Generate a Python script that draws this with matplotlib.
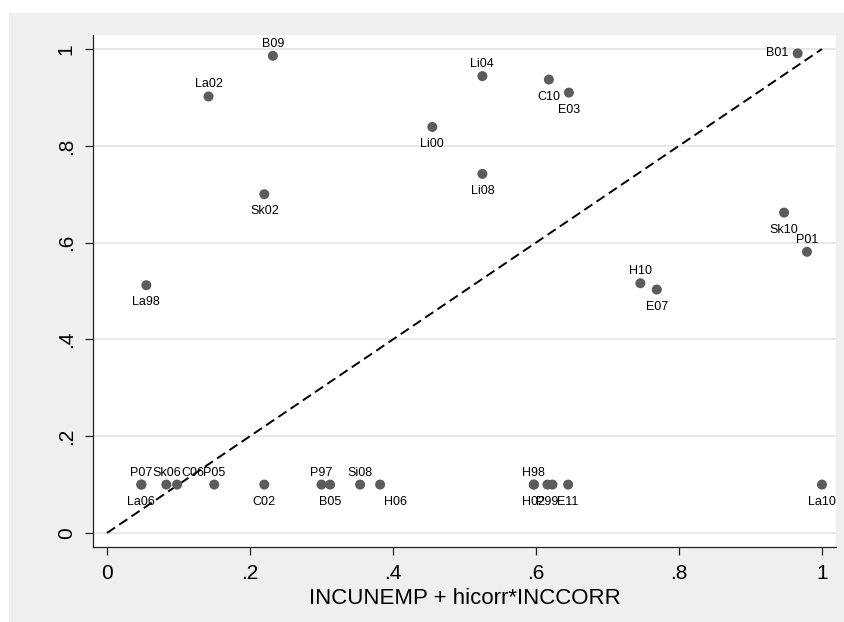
#!/usr/bin/env python3
# -*- coding: utf-8 -*-
"""
Labelled scatter of INCUNEMP + hicorr*INCCORR against its counterpart, with 45 degree line
"""

import numpy as np
import matplotlib as mpl
mpl.use('Agg')
import matplotlib.pyplot as plt
from matplotlib.patches import Rectangle

# data
labels = ['B09', 'La02', 'Sk02', 'La98', 'Li04', 'C10', 'E03', 'Li00', 'Li08', 'B01',
          'Sk10', 'P01', 'H10', 'E07', 'P07', 'La06', 'Sk06', 'C06', 'P05', 'C02',
          'P97', 'B05', 'Si08', 'H06', 'H98', 'H02', 'P99', '', 'E11', 'La10']
x_vals = [0.232, 0.142, 0.220, 0.055, 0.525, 0.618, 0.646, 0.455, 0.525, 0.966,
          0.947, 0.979, 0.746, 0.769, 0.048, 0.048, 0.083, 0.098, 0.150, 0.220,
          0.300, 0.312, 0.354, 0.382, 0.597, 0.597, 0.616, 0.623, 0.645, 1.000]
y_vals = [0.986, 0.902, 0.700, 0.512, 0.944, 0.937, 0.910, 0.839, 0.742, 0.991,
          0.662, 0.581, 0.516, 0.503, 0.100, 0.100, 0.100, 0.100, 0.100, 0.100,
          0.100, 0.100, 0.100, 0.100, 0.100, 0.100, 0.100, 0.100, 0.100, 0.100]

# stata style clock positions for the marker labels
label_pos = [12, 12, 6, 6, 12, 6, 6, 6, 6, 9,
             6, 12, 12, 6, 12, 6, 12, 1, 12, 6,
             12, 6, 12, 5, 12, 6, 6, 6, 6, 6]

ticks = [0, 0.2, 0.4, 0.6, 0.8, 1.0]
tick_labels = ['0', '.2', '.4', '.6', '.8', '1']
xlabel = 'INCUNEMP + hicorr*INCCORR'

# offset (points), ha, va for each clock position
clock = {12: ((0, 6.5), 'center', 'baseline'),
         6: ((0, -8.0), 'center', 'top'),
         9: ((-6.5, 0), 'right', 'center'),
         1: ((3, 6.0), 'left', 'baseline'),
         5: ((3, -8.0), 'left', 'top')}

plt.rcParams['font.family'] = ['Liberation Sans', 'DejaVu Sans']

fig = plt.figure(figsize=(8.45, 6.22), dpi=100)
fig.patch.set_facecolor('white')
# grey graph region, white strip at top and left like the reference
fig.patches.append(Rectangle((9 / 845, 0), 1 - 9 / 845, (622 - 13) / 622,
                             transform=fig.transFigure, facecolor='#efefef',
                             edgecolor='none', zorder=-10))

ax = fig.add_axes([93 / 845, 75 / 622, 743 / 845, 512 / 622])
ax.set_zorder(1)
ax.set_facecolor('white')

ax.plot([0, 1], [0, 1], color='black', linestyle=(0, (5, 2.6)), linewidth=1.4, zorder=2)
ax.scatter(x_vals, y_vals, s=52, color='#5c5c5c', edgecolors='none', zorder=3)

for lab, xv, yv, pos in zip(labels, x_vals, y_vals, label_pos):
    if not lab:
        continue
    off, ha, va = clock[pos]
    ax.annotate(lab, (xv, yv), xytext=off, textcoords='offset points',
                ha=ha, va=va, fontsize=9, color='black', zorder=4)

ax.set_xlim(-0.0196, 1.0196)
ax.set_ylim(-0.029, 1.029)
ax.set_xticks(ticks)
ax.set_xticklabels(tick_labels)
ax.set_yticks(ticks)
ax.set_yticklabels(tick_labels, rotation=90, va='center')
ax.tick_params('both', labelsize=15, length=5.5, width=0.9, color='#222222')
ax.tick_params('x', pad=7)
ax.tick_params('y', pad=7)

ax.grid(axis='y', color='#e3e3e3', linewidth=1.2, zorder=1)
ax.set_axisbelow(True)
for side in ['top', 'right']:
    ax.spines[side].set_visible(False)
for side in ['left', 'bottom']:
    ax.spines[side].set_linewidth(0.9)
    ax.spines[side].set_color('#222222')

ax.set_xlabel(xlabel, fontsize=16, labelpad=3)

fig.savefig('out.png', dpi=100, facecolor=fig.get_facecolor())
